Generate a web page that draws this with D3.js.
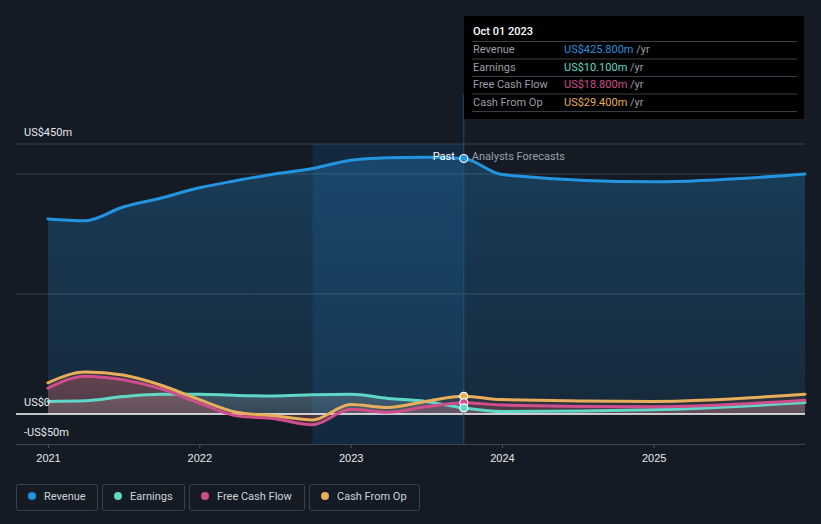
<!DOCTYPE html>
<html><head><meta charset="utf-8">
<script src="https://cdn.jsdelivr.net/npm/d3@7"></script>
<style>
html,body{margin:0;padding:0;background:#151b25;}
svg{display:block;font-family:Roboto,"Noto Sans",sans-serif;}
</style></head>
<body><svg id="c" width="821" height="524"></svg>
<script>
const pastDates = ["2021-01-01","2021-04-01","2021-07-01","2021-10-01","2022-01-01","2022-04-01","2022-07-01","2022-10-01","2023-01-01","2023-04-01","2023-07-01","2023-10-01"];
const forecastDates = ["2024-01-01","2025-01-01","2026-01-01"];
const revenuePast = [325,322,345,360,377,389,400,409,423,427,428,425.8];
const revenueFc = [399,387,400];
const earningsPast = [21,22,29,33,33,31,30,32,33,26,21,10.1];
const earningsFc = [4,7,19];
const fcfPast = [43,63,57,42,18,-3,-8,-18,8,3,12,18.8];
const fcfFc = [15,12,23];
const cfoPast = [52,70,65,48,24,3,-3,-10,16,11,21,29.4];
const cfoFc = [24,21,33];
const yTickValues = [-50,0,200,400,450];
const yLabels = [{v:450,t:"US$450m"},{v:0,t:"US$0"},{v:-50,t:"-US$50m"}];
const xTickYears = [2021,2022,2023,2024,2025];
const seriesNames = ["Revenue","Earnings","Free Cash Flow","Cash From Op"];
const seriesColors = ["#2394df","#5fd8c8","#d04e8b","#e9ae5c"];
const tooltipValues = ["US$425.800m","US$10.100m","US$18.800m","US$29.400m"];
const tooltipDate = "Oct 01 2023";
const bandStart = "2022-10-01", nowDate = "2023-10-01";

const parse = d3.timeParse("%Y-%m-%d");
const svg = d3.select("#c");
const x = d3.scaleTime().domain([parse("2021-01-01"), parse("2026-01-01")]).range([48, 805]);
const y = d3.scaleLinear().domain([-50, 450]).range([444, 144]);
const dates = pastDates.concat(forecastDates).map(parse);
function ser(p, f){ return p.concat(f).map((v,i)=>({d:dates[i], v})); }
const data = [ser(revenuePast,revenueFc), ser(earningsPast,earningsFc), ser(fcfPast,fcfFc), ser(cfoPast,cfoFc)];

const defs = svg.append("defs");
function grad(id, color, o1, o2){
  const g = defs.append("linearGradient").attr("id",id).attr("x1",0).attr("y1",0).attr("x2",0).attr("y2",1);
  g.append("stop").attr("offset","0%").attr("stop-color",color).attr("stop-opacity",o1);
  g.append("stop").attr("offset","100%").attr("stop-color",color).attr("stop-opacity",o2);
}
grad("gRev","#2394df",0.28,0.12);
grad("gEarn","#8aa0a8",0.35,0.25);
grad("gFcf","#c0506a",0.35,0.2);
grad("gCfo","#c08050",0.15,0.1);

// gridlines
svg.append("g").selectAll("line").data(yTickValues.filter(v=>v!==0 && v!==-50)).join("line")
  .attr("x1",16).attr("x2",805).attr("y1",d=>y(d)).attr("y2",d=>y(d))
  .attr("stroke","#3a4049").attr("stroke-width",1);

// highlight band
svg.append("rect").attr("x",x(parse(bandStart))).attr("y",y(450))
  .attr("width",x(parse(nowDate))-x(parse(bandStart))).attr("height",y(-50)-y(450))
  .attr("fill","#1e7fd0").attr("opacity",0.15);

const curve = d3.curveMonotoneX;
const area = d3.area().x(d=>x(d.d)).y0(y(0)).y1(d=>y(d.v)).curve(curve);
const line = d3.line().x(d=>x(d.d)).y(d=>y(d.v)).curve(curve);

svg.append("path").datum(data[0]).attr("d",area).attr("fill","url(#gRev)");
svg.append("path").datum(data[1]).attr("d",area).attr("fill","url(#gEarn)");
svg.append("path").datum(data[2]).attr("d",area).attr("fill","url(#gFcf)");
svg.append("path").datum(data[3]).attr("d",area).attr("fill","url(#gCfo)");

// zero line
svg.append("line").attr("x1",16).attr("x2",805).attr("y1",y(0)).attr("y2",y(0)).attr("stroke","#ffffff").attr("stroke-width",1.5);

// lines (draw lower series first, revenue last)
[1,2,3,0].forEach(i=>{
  svg.append("path").datum(data[i]).attr("d",line).attr("fill","none")
    .attr("stroke",seriesColors[i]).attr("stroke-width",3).attr("stroke-linecap","round");
});

// now line
svg.append("line").attr("x1",x(parse(nowDate))).attr("x2",x(parse(nowDate))).attr("y1",y(450)-50).attr("y2",y(-50))
  .attr("stroke","#1f5a86").attr("stroke-width",1).attr("opacity",0.8);

// points at now
const nowIdx = pastDates.length-1;
[3,2,1,0].forEach(i=>{
  svg.append("circle").attr("cx",x(data[i][nowIdx].d)).attr("cy",y(data[i][nowIdx].v)).attr("r",4)
    .attr("fill",seriesColors[i]).attr("stroke","#ffffff").attr("stroke-width",1.2);
});

// bottom axis
const xAxis = d3.axisBottom(x).tickValues(xTickYears.map(yr=>new Date(yr,0,1))).tickFormat(d3.timeFormat("%Y")).tickSize(4).tickPadding(6);
const gx = svg.append("g").attr("transform",`translate(0,${y(-50)})`).call(xAxis);
gx.select(".domain").remove();
gx.selectAll(".tick line").attr("stroke","#4a5059");
gx.selectAll("text").attr("fill","#e6e8eb").attr("font-size",11);
svg.append("line").attr("x1",16).attr("x2",805).attr("y1",y(-50)+0.5).attr("y2",y(-50)+0.5).attr("stroke","#3f454e");

// y labels
svg.append("g").selectAll("text").data(yLabels).join("text")
  .attr("x",24).attr("y",d=>y(d.v)-12).attr("dy","0.35em")
  .attr("fill","#e6e8eb").attr("font-size",11).text(d=>d.t);

// Past / Analysts Forecasts
svg.append("text").attr("x",x(parse(nowDate))-9).attr("y",y(revenuePast[nowIdx])-2).attr("dy","0.35em").attr("text-anchor","end")
  .attr("fill","#ffffff").attr("font-size",11).text("Past");
svg.append("text").attr("x",x(parse(nowDate))+8).attr("y",y(revenuePast[nowIdx])-2).attr("dy","0.35em")
  .attr("fill","#9aa0a8").attr("font-size",11).text("Analysts Forecasts");

// tooltip
const tt = svg.append("g").attr("transform","translate(464,16)");
tt.append("rect").attr("width",340).attr("height",103).attr("fill","#000000");
tt.append("text").attr("x",9).attr("y",19).attr("fill","#ffffff").attr("font-size",11).attr("font-weight",500).text(tooltipDate);
const rowH = 17.5;
seriesNames.forEach((n,i)=>{
  const ry = 25 + i*rowH;
  tt.append("line").attr("x1",8).attr("x2",333).attr("y1",ry+0.5).attr("y2",ry+0.5).attr("stroke","#3b3f45");
  tt.append("text").attr("x",9).attr("y",ry+12).attr("fill","#9a9ea4").attr("font-size",11).text(n);
  const t = tt.append("text").attr("x",100).attr("y",ry+12).attr("font-size",11);
  t.append("tspan").attr("fill",seriesColors[i]).text(tooltipValues[i]);
  t.append("tspan").attr("fill","#9a9ea4").text(" /yr");
});
tt.append("line").attr("x1",8).attr("x2",333).attr("y1",25+4*rowH+0.5).attr("y2",25+4*rowH+0.5).attr("stroke","#3b3f45");

// legend
const legW = [81, 82, 115, 110];
let lx = 16;
seriesNames.forEach((n,i)=>{
  const g = svg.append("g").attr("transform",`translate(${lx},484)`);
  g.append("rect").attr("x",0.5).attr("y",0.5).attr("width",legW[i]).attr("height",26).attr("rx",2)
    .attr("fill","none").attr("stroke","#3a4049");
  g.append("circle").attr("cx",16).attr("cy",12).attr("r",4).attr("fill",seriesColors[i]);
  g.append("text").attr("x",28).attr("y",12).attr("dy","0.35em").attr("fill","#cfd3d8").attr("font-size",11).text(n);
  lx += legW[i] + 5;
});
</script></body></html>
